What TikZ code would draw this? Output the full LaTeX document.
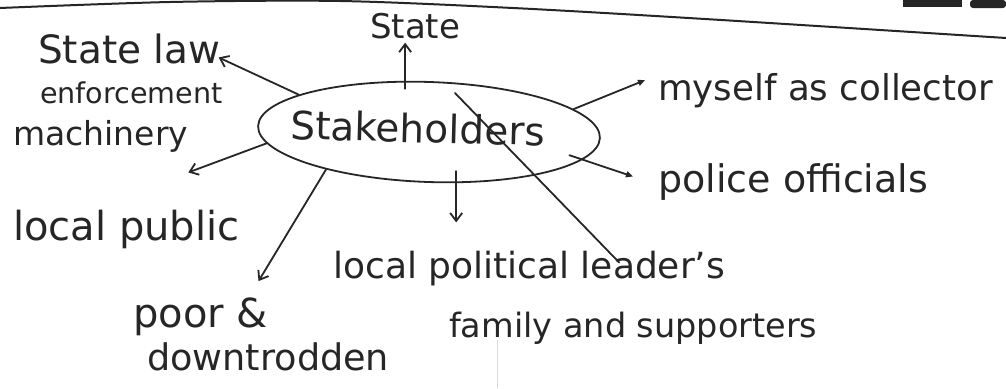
\documentclass[tikz,border=0pt]{standalone}
\usepackage{fontspec}
\setmainfont{DejaVu Sans}
\usetikzlibrary{arrows.meta,shapes.geometric}
\definecolor{ink}{RGB}{38,38,38}
\newcommand{\hwsize}[1]{\fontsize{#1}{#1}\selectfont}
\begin{document}
\begin{tikzpicture}[x=1pt,y=-1pt,
  hand/.style={inner sep=0pt, text=ink, anchor=base west},
  conn/.style={draw=ink, line width=1.8pt, line cap=round},
  arr/.style={conn, -{Straight Barb[length=8pt,width=12pt]}},
  arrf/.style={conn, -{Triangle[length=7pt,width=6pt]}}]
\useasboundingbox (0,0) rectangle (1006,388);
\fill[white] (0,0) rectangle (1006,388);
% page rule and page artefacts
\draw[ink, line width=2pt] plot[smooth] coordinates {(0,8) (170,2) (340,1) (513,8) (705,19) (1006,38)};
\fill[ink] (903,0) rectangle (962,7);
\fill[ink, rounded corners=3pt] (970,0) rectangle (1006,8);
\draw[black!15, line width=1pt] (497,340) -- (497,388);
% labels
\node[hand, font=\hwsize{39}] (law1) at (38,63) {State law};
\node[hand, font=\hwsize{28.6}] (law2) at (40,103) {enforcement};
\node[hand, font=\hwsize{33}] (law3) at (13,145) {machinery};
\node[hand, font=\hwsize{34}] (state) at (370,38) {State};
\node[ellipse, draw=ink, line width=1.8pt, minimum width=342pt, minimum height=100pt, inner sep=0pt, rotate=-2] (S) at (429,132) {};
\node[inner sep=0pt, text=ink, font=\hwsize{39}, rotate=-1.5] (stk) at (418,128) {Stakeholders};
\node[hand, font=\hwsize{35.6}] (my) at (658,100) {myself as collector};
\node[hand, font=\hwsize{38}] (pol) at (658,192) {police officials};
\node[hand, font=\hwsize{40}] (pub) at (13,240) {local public};
\node[hand, font=\hwsize{40}] (poor) at (133,327) {poor \&};
\node[hand, font=\hwsize{36.6}] (down) at (147,370) {downtrodden};
\node[hand, font=\hwsize{36}] (lead) at (333,278) {local political leader's};
\node[hand, font=\hwsize{33.5}] (fam) at (449,337) {family and supporters};
% connectors
\draw[arr] (S.166) -- ([xshift=-2pt,yshift=-9pt]law1.east);
\draw[arr, shorten >=4pt] ([yshift=-8pt]S.117) -- (state.south -| S.117);
\draw[arr] (S.186) -- ([xshift=62pt,yshift=37pt]pub.north);
\draw[arr] (S.202) -- ([xshift=58pt,yshift=16pt]poor.north);
\draw[arr, shorten >=28pt] ([yshift=12pt]S.300) -- (S.300 |- lead.north);
\draw[conn] ([xshift=26pt,yshift=39pt]S.center) -- ([xshift=90pt,yshift=-12pt]lead.north);
\draw[arrf] (S.11) -- ([xshift=-13pt,yshift=10pt]my.west);
\draw[arrf] ([xshift=-14pt,yshift=4pt]S.352) -- ([xshift=-25pt,yshift=5pt]pol.west);
\end{tikzpicture}
\end{document}
